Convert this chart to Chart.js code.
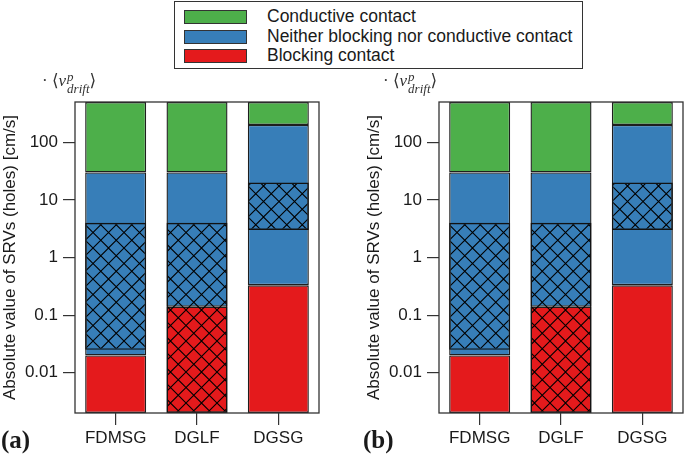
<!DOCTYPE html>
<html>
<head>
<meta charset="utf-8">
<script src="https://cdn.jsdelivr.net/npm/chart.js@4.4.1/dist/chart.umd.min.js"></script>
<style>
  html, body { margin: 0; padding: 0; background: #fff; }
  body { width: 685px; height: 458px; position: relative; overflow: hidden; font-family: "Liberation Sans", Arial, sans-serif; color: #1a1a1a; }
  .panel { position: absolute; top: 0; height: 458px; }
  #legend { position: absolute; left: 174px; top: 1px; width: 409px; height: 68px; border: 1.3px solid #333; box-sizing: border-box; }
  .row { position: absolute; left: 0; height: 20px; font-size: 17.5px; line-height: 20px; }
  .swatch { position: absolute; left: 9px; top: 3px; width: 63px; height: 14px; border: 1px solid #333; box-sizing: border-box; }
  .row span.txt { position: absolute; left: 92px; top: -1px; white-space: nowrap; }
  .vlabel { position: absolute; top: 70px; font-family: "Liberation Serif", "DejaVu Serif", serif; font-size: 17px; white-space: nowrap; color: #333; }
  .vlabel i { font-style: italic; }
  .ss { display: inline-block; vertical-align: -7px; line-height: 12px; font-size: 13px; font-style: italic; margin-left: 1px; }
  .ss span { display: block; }
  .plabel { position: absolute; top: 426px; font-family: "Liberation Serif", "DejaVu Serif", serif; font-weight: bold; font-size: 25px; }
</style>
</head>
<body>
<div id="legend"></div>
<canvas id="chartA" class="panel" style="left:0px" width="342" height="458"></canvas>
<canvas id="chartB" class="panel" style="left:364px" width="321" height="458"></canvas>
<div class="vlabel" style="left:42px">· ⟨<i>v</i><span class="ss"><span>p</span><span>drift</span></span>⟩</div>
<div class="vlabel" style="left:383px">· ⟨<i>v</i><span class="ss"><span>p</span><span>drift</span></span>⟩</div>
<div class="plabel" style="left:1px">(a)</div>
<div class="plabel" style="left:363px">(b)</div>
<script>
// categories and values (both panels show the same bars)
const categories = ['FDMSG', 'DGLF', 'DGSG'];
const axisMin = 0.002;
const axisMax = 500;
const blockingTop = [0.02, 0.14, 0.33];    // top of red bars
const neitherTop = [30, 30, 200];          // top of blue bars
const hatchLow = [0.025, 0.002, 3];        // hatched range
const hatchHigh = [4, 4, 20];
const yTicks = [0.01, 0.1, 1, 10, 100];

const legendItems = [
    { label: 'Conductive contact', color: '#4daf4a' },
    { label: 'Neither blocking nor conductive contact', color: '#377eb8' },
    { label: 'Blocking contact', color: '#e41a1c' }
];

const COLORS = { green: '#4daf4a', blue: '#377eb8', red: '#e41a1c', edge: '#1e1e1e' };

// legend
const legendEl = document.getElementById('legend');
legendItems.forEach((item, i) => {
    const row = document.createElement('div');
    row.className = 'row';
    row.style.top = (5 + i * 19.5) + 'px';
    row.style.width = '100%';
    row.innerHTML = '<div class="swatch" style="background:' + item.color + '"></div><span class="txt">' + item.label + '</span>';
    legendEl.appendChild(row);
});

// cross hatch pattern
function makeHatch() {
    const size = 15.5;
    const c = document.createElement('canvas');
    c.width = 31; c.height = 31;
    const g = c.getContext('2d');
    g.strokeStyle = '#000';
    g.lineWidth = 1.1;
    g.beginPath();
    for (let k = -2; k <= 2; k++) {
        g.moveTo(k * size, 0); g.lineTo(k * size + 31, 31);
        g.moveTo(k * size + 31, 0); g.lineTo(k * size, 31);
    }
    g.stroke();
    return g.createPattern(c, 'repeat');
}

// frame around plot area
const framePlugin = {
    id: 'frame',
    afterDatasetsDraw(chart) {
        const a = chart.chartArea;
        const ctx = chart.ctx;
        ctx.save();
        ctx.strokeStyle = '#333';
        ctx.lineWidth = 1.3;
        ctx.strokeRect(a.left, a.top, a.right - a.left, a.bottom - a.top);
        ctx.restore();
    }
};

function buildPanel(canvasId, padRight) {
    const ctx = document.getElementById(canvasId).getContext('2d');
    const hatch = makeHatch();
    const barStyle = {
        borderColor: COLORS.edge,
        borderWidth: 1.4,
        borderSkipped: false,
        barPercentage: 0.75,
        categoryPercentage: 1,
        order: 1
    };
    return new Chart(ctx, {
        type: 'bar',
        data: {
            labels: categories,
            datasets: [
                Object.assign({}, barStyle, {
                    label: 'hatch',
                    data: hatchLow.map((v, i) => [v, hatchHigh[i]]),
                    backgroundColor: hatch,
                    borderColor: '#111',
                    borderWidth: 1.4,
                    order: 0
                }),
                Object.assign({}, barStyle, {
                    label: 'Blocking contact',
                    data: blockingTop.map(v => [axisMin, v]),
                    backgroundColor: COLORS.red
                }),
                Object.assign({}, barStyle, {
                    label: 'Neither blocking nor conductive contact',
                    data: blockingTop.map((v, i) => [v, neitherTop[i]]),
                    backgroundColor: COLORS.blue
                }),
                Object.assign({}, barStyle, {
                    label: 'Conductive contact',
                    data: neitherTop.map(v => [v, axisMax]),
                    backgroundColor: COLORS.green
                })
            ]
        },
        options: {
            responsive: false,
            animation: false,
            layout: { padding: { top: 102, right: padRight, bottom: 0, left: 0 } },
            datasets: { bar: { grouped: false } },
            plugins: { legend: { display: false }, tooltip: { enabled: false } },
            scales: {
                x: {
                    type: 'category',
                    offset: true,
                    border: { display: false },
                    grid: { offset: false, drawOnChartArea: false, drawTicks: true, tickLength: 12, color: '#333', lineWidth: 1.2 },
                    ticks: { color: '#1a1a1a', font: { family: 'Liberation Sans', size: 17 }, padding: 3, maxRotation: 0 },
                    afterFit: (scale) => { scale.height = 45; }
                },
                y: {
                    type: 'logarithmic',
                    min: axisMin,
                    max: axisMax,
                    border: { display: false },
                    grid: { drawOnChartArea: false, drawTicks: true, tickLength: 12, color: '#333', lineWidth: 1.2 },
                    afterBuildTicks: (scale) => { scale.ticks = yTicks.map(v => ({ value: v })); },
                    ticks: {
                        color: '#1a1a1a',
                        font: { family: 'Liberation Sans', size: 17 },
                        padding: 5,
                        callback: (v) => String(v)
                    },
                    title: {
                        display: true,
                        text: 'Absolute value of SRVs (holes) [cm/s]',
                        color: '#1a1a1a',
                        font: { family: 'Liberation Sans', size: 17 },
                        padding: { top: 0, bottom: 0 }
                    },
                    afterFit: (scale) => { scale.width = 75; }
                }
            }
        },
        plugins: [framePlugin]
    });
}

buildPanel('chartA', 23);
buildPanel('chartB', 2);
</script>
</body>
</html>
